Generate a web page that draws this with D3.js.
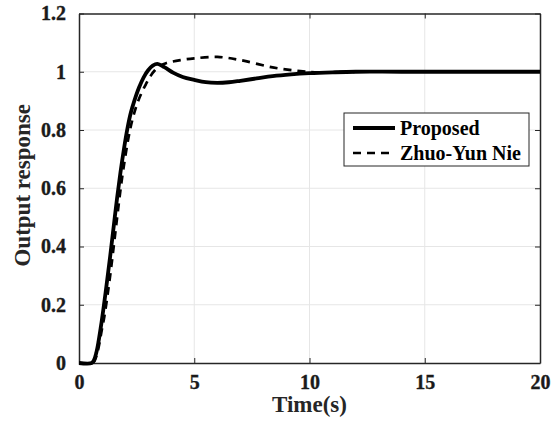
<!DOCTYPE html>
<html>
<head>
<meta charset="utf-8">
<script src="https://cdn.jsdelivr.net/npm/d3@7"></script>
<style>
  html, body { margin: 0; padding: 0; background: #fff; }
  svg { display: block; }
  svg text { font-family: "Liberation Serif", "Times New Roman", serif; font-weight: 700; }
</style>
</head>
<body>
<div id="chart"></div>
<script>
// step responses
const T_PROPOSED = [0, 0.55, 0.65, 0.75, 0.85, 0.95, 1.05, 1.2, 1.35, 1.5, 1.65, 1.8, 1.95, 2.1, 2.25, 2.4, 2.6, 2.8, 3.0, 3.2, 3.4, 3.7, 4.1, 4.5, 5, 5.5, 6, 6.5, 7, 7.7, 8.4, 9.2, 10, 11, 12, 14, 20];
const Y_PROPOSED = [0, 0, 0.01, 0.035, 0.075, 0.125, 0.18, 0.27, 0.365, 0.465, 0.565, 0.655, 0.735, 0.805, 0.86, 0.9, 0.945, 0.98, 1.005, 1.021, 1.027, 1.016, 0.996, 0.982, 0.972, 0.964, 0.962, 0.964, 0.969, 0.977, 0.985, 0.991, 0.995, 0.998, 1.0, 1.0, 1.0];

const T_NIE = [0, 0.58, 0.68, 0.78, 0.88, 0.98, 1.1, 1.25, 1.4, 1.55, 1.7, 1.85, 2.0, 2.15, 2.3, 2.5, 2.7, 2.9, 3.1, 3.3, 3.5, 3.8, 4.4, 5, 6, 7, 8.4, 9.6, 10.5, 12, 20];
const Y_NIE = [0, 0, 0.008, 0.03, 0.065, 0.11, 0.16, 0.24, 0.33, 0.43, 0.53, 0.625, 0.705, 0.775, 0.83, 0.885, 0.925, 0.957, 0.985, 1.006, 1.02, 1.03, 1.04, 1.046, 1.051, 1.04, 1.015, 1.002, 0.998, 1.0, 1.0];

const X_TICKS = [0, 5, 10, 15, 20];
const Y_TICKS = [0, 0.2, 0.4, 0.6, 0.8, 1, 1.2];
const LEGEND = ["Proposed", "Zhuo-Yun Nie"];

const totalW = 558, totalH = 426;
const margin = { top: 13.5, right: 18, bottom: 63, left: 79 };
const W = totalW - margin.left - margin.right;
const H = totalH - margin.top - margin.bottom;

const svg = d3.select("#chart").append("svg")
  .attr("width", totalW).attr("height", totalH);
const g = svg.append("g").attr("transform", `translate(${margin.left},${margin.top})`);

const x = d3.scaleLinear().domain([0, 20]).range([0, W]);
const y = d3.scaleLinear().domain([0, 1.2]).range([H, 0]);

/* grid */
g.append("g").selectAll("line").data(X_TICKS.slice(1, -1)).join("line")
  .attr("x1", d => x(d)).attr("x2", d => x(d)).attr("y1", 0).attr("y2", H)
  .attr("stroke", "#e6e6e6").attr("stroke-width", 1);
g.append("g").selectAll("line").data(Y_TICKS.slice(1, -1)).join("line")
  .attr("y1", d => y(d)).attr("y2", d => y(d)).attr("x1", 0).attr("x2", W)
  .attr("stroke", "#e6e6e6").attr("stroke-width", 1);

/* axes (MATLAB-like box, inward ticks) */
const axColor = "#262626";
const styleAxis = ax => {
  ax.attr("font-family", null).attr("font-size", null);
  ax.select(".domain").attr("stroke", axColor).attr("stroke-width", 1.5);
  ax.selectAll(".tick line").attr("stroke", axColor);
  ax.selectAll("text").attr("fill", "#1a1a1a")
    .style("font-family", "'Liberation Serif', 'Times New Roman', serif")
    .style("font-size", "20px").style("font-weight", "700")
    .attr("stroke", "#1a1a1a").attr("stroke-width", 0.35);
};
g.append("g").attr("transform", `translate(0,${H})`)
  .call(d3.axisBottom(x).tickValues(X_TICKS).tickSize(-5).tickPadding(12).tickSizeOuter(0))
  .call(styleAxis);
g.append("g")
  .call(d3.axisTop(x).tickValues(X_TICKS).tickSize(-5).tickFormat("").tickSizeOuter(0))
  .call(styleAxis);
g.append("g")
  .call(d3.axisLeft(y).tickValues(Y_TICKS).tickSize(-5).tickPadding(13).tickSizeOuter(0)
    .tickFormat(d => d === 0 || d === 1 ? d3.format("d")(d) : d3.format(".1f")(d)))
  .call(styleAxis);
g.append("g").attr("transform", `translate(${W},0)`)
  .call(d3.axisRight(y).tickValues(Y_TICKS).tickSize(-5).tickFormat("").tickSizeOuter(0))
  .call(styleAxis);

/* axis labels */
g.append("text").attr("x", W / 2).attr("y", H + 49)
  .attr("text-anchor", "middle").style("font-size", "23px").attr("fill", axColor)
  .text("Time(s)");
g.append("text").attr("transform", "rotate(-90)").attr("x", -H / 2 + 3).attr("y", -49)
  .attr("text-anchor", "middle").style("font-size", "23px").attr("fill", axColor)
  .text("Output response");

/* lines */
const lineGen = d3.line().x(d => x(d[0])).y(d => y(d[1])).curve(d3.curveCatmullRom.alpha(0.5));
const proposed = T_PROPOSED.map((t, i) => [t, Y_PROPOSED[i]]);
const nie = T_NIE.map((t, i) => [t, Y_NIE[i]]);

g.append("path").datum(nie)
  .attr("fill", "none").attr("stroke", "#000").attr("stroke-width", 2.7)
  .attr("stroke-dasharray", "8 6").attr("d", lineGen);
g.append("path").datum(proposed)
  .attr("fill", "none").attr("stroke", "#000").attr("stroke-width", 3.8)
  .attr("stroke-linejoin", "round").attr("d", lineGen);

/* legend */
const lg = svg.append("g").attr("transform", "translate(344,113)");
lg.append("rect").attr("width", 185).attr("height", 53)
  .attr("fill", "#fff").attr("stroke", "#262626").attr("stroke-width", 1);
LEGEND.forEach((name, i) => {
  const cy = 15 + i * 25;
  lg.append("line").attr("x1", 9).attr("x2", 51).attr("y1", cy).attr("y2", cy)
    .attr("stroke", "#000").attr("stroke-width", i === 0 ? 3.8 : 2.7)
    .attr("stroke-dasharray", i === 0 ? null : "8 6");
  lg.append("text").attr("x", 56).attr("y", cy).attr("dy", "0.35em")
    .style("font-size", "20px").attr("fill", "#000").text(name);
});
</script>
</body>
</html>
